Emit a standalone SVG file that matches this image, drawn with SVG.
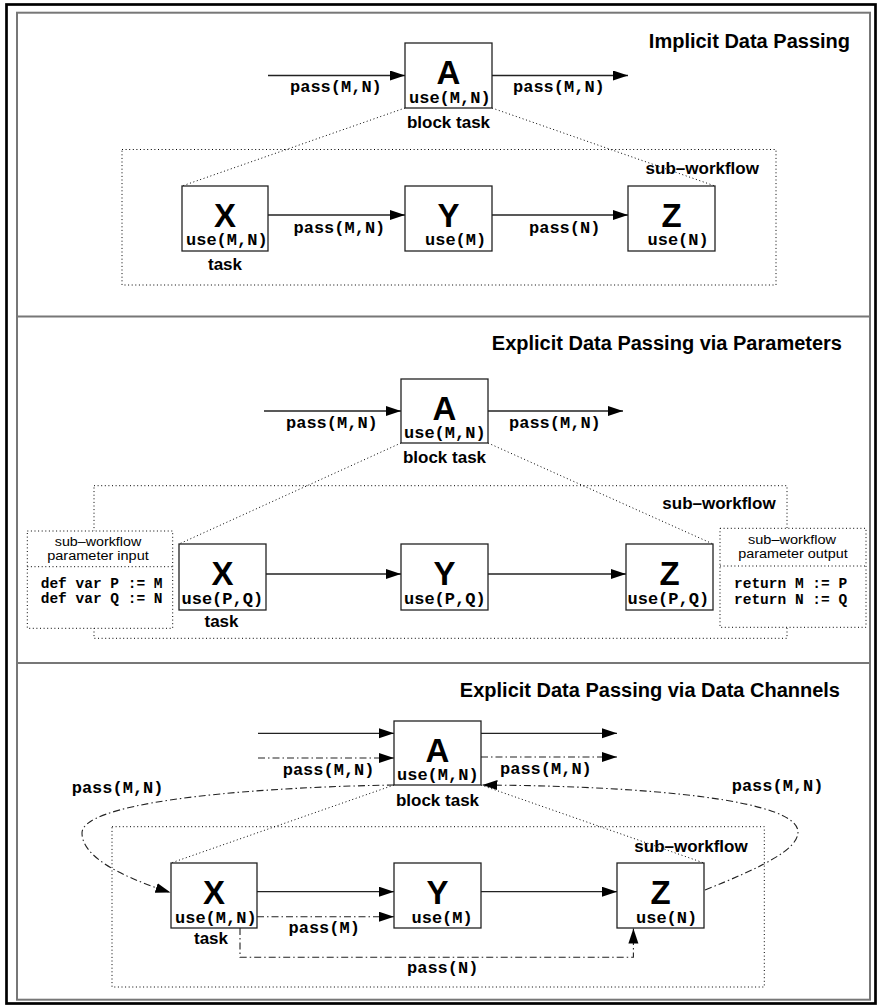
<svg xmlns="http://www.w3.org/2000/svg" width="880" height="1008" viewBox="0 0 880 1008">
<defs>
<marker id="arrow" markerUnits="userSpaceOnUse" markerWidth="16" markerHeight="11" refX="15" refY="5" orient="auto"><path d="M0,0 L15,5 L0,10 z" fill="#000"/></marker>
</defs>
<style>
.box{fill:#fff;stroke:#222;stroke-width:1.3}
.flow{fill:none;stroke:#222;stroke-width:1.3}
.chan{fill:none;stroke:#222;stroke-width:1.1;stroke-dasharray:7 3 1.5 3}
.dot{fill:none;stroke:#000;stroke-width:1;stroke-dasharray:1 2.6}
.pbox{fill:#fff;stroke:#000;stroke-width:1;stroke-dasharray:1 2.6}
.frame{fill:none;stroke:#777;stroke-width:2}
.big{font:bold 33px "Liberation Sans",Arial,sans-serif;text-anchor:middle}
.mono{font:bold 17px "Liberation Mono","Courier New",monospace}
.lbl{font:bold 17px "Liberation Sans",Arial,sans-serif}
.mid{text-anchor:middle}
.title{font:bold 20px "Liberation Sans",Arial,sans-serif;text-anchor:end}
.code{font:bold 14.5px "Liberation Mono","Courier New",monospace}
.hdr{font:12px "Liberation Sans",Arial,sans-serif;text-anchor:middle}
</style>
<rect width="880" height="1008" fill="#fff"/>

<!-- page frame and panel separators -->
<g id="frame">
<rect x="6.5" y="4.5" width="869" height="999" fill="none" stroke="#000" stroke-width="2.7"/>
<rect class="frame" x="17" y="12.7" width="853" height="987"/>
<line class="frame" x1="17" y1="316.5" x2="870" y2="316.5"/>
<line class="frame" x1="17" y1="663" x2="870" y2="663"/>
</g>

<!-- ===== panel 1: implicit ===== -->
<text id="p1-title" class="title" x="850" y="48">Implicit Data Passing</text>
<g id="p1-sub">
<rect class="dot" x="122" y="149.5" width="654" height="135.5"/>
<text class="lbl" x="645.6" y="174.3">sub–workflow</text>
</g>
<g id="p1-conn">
<path class="dot" d="M405,108 L182,186 M492,108 L715,186"/>
<path class="flow" d="M268,75.5 H405" marker-end="url(#arrow)"/>
<path class="flow" d="M492,75.5 H628" marker-end="url(#arrow)"/>
<path class="flow" d="M268,215 H405" marker-end="url(#arrow)"/>
<path class="flow" d="M492,215 H628" marker-end="url(#arrow)"/>
<text class="mono" x="290" y="92">pass(M,N)</text>
<text class="mono" x="513" y="92">pass(M,N)</text>
<text class="mono" x="293.5" y="233">pass(M,N)</text>
<text class="mono" x="529" y="233">pass(N)</text>
</g>
<g id="p1-A">
<rect class="box" x="405" y="43" width="87" height="65"/>
<text class="big" x="448.5" y="84">A</text>
<text class="mono" x="409" y="103">use(M,N)</text>
<text class="lbl mid" x="448.5" y="128">block task</text>
</g>
<g id="p1-X">
<rect class="box" x="182" y="186" width="86" height="65"/>
<text class="big" x="225" y="227">X</text>
<text class="mono" x="186" y="244.5">use(M,N)</text>
<text class="lbl mid" x="225" y="269.5">task</text>
</g>
<g id="p1-Y">
<rect class="box" x="405" y="186" width="87" height="65"/>
<text class="big" x="448.5" y="227">Y</text>
<text class="mono" x="425" y="244.5">use(M)</text>
</g>
<g id="p1-Z">
<rect class="box" x="628" y="186" width="87" height="65"/>
<text class="big" x="671.5" y="227">Z</text>
<text class="mono" x="647.5" y="244.5">use(N)</text>
</g>

<!-- ===== panel 2: parameters ===== -->
<text id="p2-title" class="title" x="842" y="350">Explicit Data Passing via Parameters</text>
<g id="p2-sub">
<rect class="dot" x="94" y="485.7" width="693" height="152.6"/>
<text class="lbl" x="662.3" y="509.3">sub–workflow</text>
</g>
<g id="p2-in">
<rect class="pbox" x="27.3" y="531" width="145.4" height="97.3"/>
<line class="dot" x1="27.3" y1="566.7" x2="172.7" y2="566.7"/>
<text class="hdr" x="98" y="545.7" textLength="86.5" lengthAdjust="spacingAndGlyphs">sub–workflow</text>
<text class="hdr" x="98" y="559.5" textLength="101.5" lengthAdjust="spacingAndGlyphs">parameter input</text>
<text class="code" x="40.7" y="588">def var P := M</text>
<text class="code" x="40.7" y="603">def var Q := N</text>
</g>
<g id="p2-out">
<rect class="pbox" x="720" y="528.3" width="146" height="99"/>
<line class="dot" x1="720" y1="566" x2="866" y2="566"/>
<text class="hdr" x="792" y="544" textLength="88" lengthAdjust="spacingAndGlyphs">sub–workflow</text>
<text class="hdr" x="793" y="557.8" textLength="109.5" lengthAdjust="spacingAndGlyphs">parameter output</text>
<text class="code" x="734" y="588">return M := P</text>
<text class="code" x="734" y="604">return N := Q</text>
</g>
<g id="p2-conn">
<path class="dot" d="M401,443 L179,544 M488,443 L713,544"/>
<path class="flow" d="M264,411 H401" marker-end="url(#arrow)"/>
<path class="flow" d="M488,411 H623" marker-end="url(#arrow)"/>
<path class="flow" d="M266,574 H401" marker-end="url(#arrow)"/>
<path class="flow" d="M488,574 H626" marker-end="url(#arrow)"/>
<text class="mono" x="286" y="428">pass(M,N)</text>
<text class="mono" x="509" y="428">pass(M,N)</text>
</g>
<g id="p2-A">
<rect class="box" x="401" y="379" width="87" height="64"/>
<text class="big" x="444.5" y="420">A</text>
<text class="mono" x="404" y="438">use(M,N)</text>
<text class="lbl mid" x="444.5" y="463">block task</text>
</g>
<g id="p2-X">
<rect class="box" x="179" y="544" width="87" height="66"/>
<text class="big" x="222.5" y="585">X</text>
<text class="mono" x="181.5" y="604">use(P,Q)</text>
<text class="lbl mid" x="221.5" y="627">task</text>
</g>
<g id="p2-Y">
<rect class="box" x="401" y="544" width="87" height="66"/>
<text class="big" x="444.5" y="585">Y</text>
<text class="mono" x="404" y="604">use(P,Q)</text>
</g>
<g id="p2-Z">
<rect class="box" x="626" y="544" width="87" height="66"/>
<text class="big" x="669.5" y="585">Z</text>
<text class="mono" x="627.5" y="604">use(P,Q)</text>
</g>

<!-- ===== panel 3: data channels ===== -->
<text id="p3-title" class="title" x="840" y="697">Explicit Data Passing via Data Channels</text>
<g id="p3-sub">
<rect class="dot" x="112" y="826.7" width="652.3" height="160.3"/>
<text class="lbl" x="634.3" y="851.7">sub–workflow</text>
</g>
<g id="p3-conn">
<path class="dot" d="M394,785 L171,863 M481,785 L704,863"/>
<path class="flow" d="M258,733.3 H394" marker-end="url(#arrow)"/>
<path class="chan" d="M258,758 H394" marker-end="url(#arrow)"/>
<path class="flow" d="M481,733.3 H617" marker-end="url(#arrow)"/>
<path class="chan" d="M481,757 H617" marker-end="url(#arrow)"/>
<path class="flow" d="M257,891.7 H394" marker-end="url(#arrow)"/>
<path class="flow" d="M481,891.7 H617" marker-end="url(#arrow)"/>
<path class="chan" d="M257,916.7 H394" marker-end="url(#arrow)"/>
<path class="chan" d="M240,928 V957.3 H633.4 V928.5" marker-end="url(#arrow)"/>
<path class="chan" d="M394,785 C220,788 82,805 82,833 C82,858 125,878 170.5,892.5" marker-end="url(#arrow)"/>
<path class="chan" d="M705,890 C760,868 798,850 798,832 C798,800 650,786 482.5,785" marker-end="url(#arrow)"/>
<text class="mono" x="282.7" y="775">pass(M,N)</text>
<text class="mono" x="500" y="774">pass(M,N)</text>
<text class="mono" x="71.7" y="793.3">pass(M,N)</text>
<text class="mono" x="731.7" y="790.7">pass(M,N)</text>
<text class="mono" x="288.5" y="933.3">pass(M)</text>
<text class="mono" x="407" y="973.3">pass(N)</text>
</g>
<g id="p3-A">
<rect class="box" x="394" y="721" width="87" height="64"/>
<text class="big" x="437.5" y="762">A</text>
<text class="mono" x="397" y="780">use(M,N)</text>
<text class="lbl mid" x="437.5" y="806">block task</text>
</g>
<g id="p3-X">
<rect class="box" x="171" y="863" width="86" height="65"/>
<text class="big" x="214" y="904">X</text>
<text class="mono" x="175" y="922.5">use(M,N)</text>
<text class="lbl mid" x="211" y="944">task</text>
</g>
<g id="p3-Y">
<rect class="box" x="394" y="863" width="87" height="65"/>
<text class="big" x="437.5" y="904">Y</text>
<text class="mono" x="411.5" y="922.5">use(M)</text>
</g>
<g id="p3-Z">
<rect class="box" x="617" y="863" width="87" height="65"/>
<text class="big" x="660.5" y="904">Z</text>
<text class="mono" x="636" y="922.5">use(N)</text>
</g>
</svg>
